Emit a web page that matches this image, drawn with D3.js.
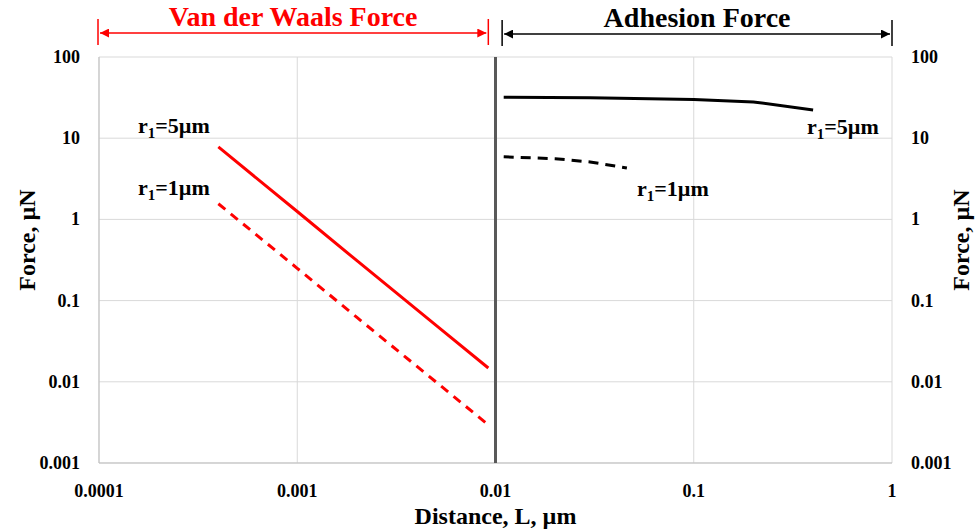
<!DOCTYPE html>
<html>
<head>
<meta charset="utf-8">
<script src="https://cdn.jsdelivr.net/npm/d3@7"></script>
<style>
  body { margin: 0; background: #fff; }
</style>
</head>
<body>
<div id="chart"></div>
<script>
// tick values
var xTicks = [0.0001, 0.001, 0.01, 0.1, 1];
var yTicks = [0.001, 0.01, 0.1, 1, 10, 100];
var xTickLabels = ["0.0001", "0.001", "0.01", "0.1", "1"];
var yTickLabels = ["0.001", "0.01", "0.1", "1", "10", "100"];

// van der Waals force (red)
var vdwDist = [0.0004, 0.001, 0.002, 0.005, 0.0092];
var vdw5 = [7.8, 1.25, 0.31, 0.05, 0.0148];
var vdw1 = [1.56, 0.25, 0.062, 0.01, 0.00295];

// adhesion force (black)
var adhDist5 = [0.011, 0.03, 0.1, 0.2, 0.4];
var adh5 = [32, 31.5, 30, 28, 22.2];
var adhDist1 = [0.011, 0.02, 0.03, 0.046];
var adh1 = [5.9, 5.6, 5.1, 4.3];

var FONT = "'Liberation Serif', 'Times New Roman', 'DejaVu Serif', serif";

var W = 977, H = 531;
var margin = {top: 57, right: 85, bottom: 68, left: 99};
var width = W - margin.left - margin.right,
    height = H - margin.top - margin.bottom;

var svg = d3.select("#chart").append("svg")
    .attr("width", W)
    .attr("height", H)
    .attr("font-family", FONT)
    .attr("font-weight", "bold");

var g = svg.append("g")
    .attr("transform", "translate(" + margin.left + "," + margin.top + ")");

var x = d3.scaleLog().domain([0.0001, 1]).range([0, width]);
var y = d3.scaleLog().domain([0.001, 100]).range([height, 0]);

// gridlines
g.selectAll(".vgrid").data(xTicks).enter().append("line")
    .attr("x1", function(d) { return x(d); })
    .attr("x2", function(d) { return x(d); })
    .attr("y1", 0).attr("y2", height)
    .style("stroke", "#d9d9d9").style("stroke-width", 1);

g.selectAll(".hgrid").data(yTicks).enter().append("line")
    .attr("x1", 0).attr("x2", width)
    .attr("y1", function(d) { return y(d); })
    .attr("y2", function(d) { return y(d); })
    .style("stroke", "#d9d9d9").style("stroke-width", 1);

// left/bottom axis lines a bit darker
g.append("line").attr("x1", 0).attr("x2", 0).attr("y1", 0).attr("y2", height)
    .style("stroke", "#bfbfbf");
g.append("line").attr("x1", 0).attr("x2", width).attr("y1", height).attr("y2", height)
    .style("stroke", "#bfbfbf");

function txt(sel) {
  return sel.style("font-family", FONT).style("font-weight", "bold");
}

// tick labels
txt(g.selectAll(".xlab").data(xTicks).enter().append("text"))
    .attr("x", function(d) { return x(d); })
    .attr("y", height + 34)
    .attr("text-anchor", "middle")
    .style("font-size", "18px")
    .text(function(d, i) { return xTickLabels[i]; });

txt(g.selectAll(".ylab").data(yTicks).enter().append("text"))
    .attr("x", -19)
    .attr("y", function(d) { return y(d) + 6; })
    .attr("text-anchor", "end")
    .style("font-size", "18px")
    .text(function(d, i) { return yTickLabels[i]; });

txt(g.selectAll(".ylab2").data(yTicks).enter().append("text"))
    .attr("x", width + 19)
    .attr("y", function(d) { return y(d) + 6; })
    .attr("text-anchor", "start")
    .style("font-size", "18px")
    .text(function(d, i) { return yTickLabels[i]; });

// axis titles
txt(svg.append("text"))
    .attr("x", margin.left + x(0.01))
    .attr("y", 524)
    .attr("text-anchor", "middle")
    .style("font-size", "24px")
    .text("Distance, L, \u00b5m");

txt(svg.append("text"))
    .attr("transform", "translate(35,240) rotate(-90)")
    .attr("text-anchor", "middle")
    .style("font-size", "24px")
    .text("Force, \u00b5N");

txt(svg.append("text"))
    .attr("transform", "translate(969,240) rotate(-90)")
    .attr("text-anchor", "middle")
    .style("font-size", "24px")
    .text("Force, \u00b5N");

// separator at L = 0.01
g.append("line")
    .attr("x1", x(0.01)).attr("x2", x(0.01))
    .attr("y1", 0).attr("y2", height)
    .style("stroke", "#595959").style("stroke-width", 3);

var line = d3.line()
    .x(function(d) { return x(d[0]); })
    .y(function(d) { return y(d[1]); });

function pairs(xs, ys) { return xs.map(function(v, i) { return [v, ys[i]]; }); }

g.append("path").datum(pairs(vdwDist, vdw5))
    .attr("d", line).style("fill", "none")
    .style("stroke", "#ff0000").style("stroke-width", 3);

g.append("path").datum(pairs(vdwDist, vdw1))
    .attr("d", line).style("fill", "none")
    .style("stroke", "#ff0000").style("stroke-width", 3)
    .style("stroke-dasharray", "9,7");

g.append("path").datum(pairs(adhDist5, adh5))
    .attr("d", line).style("fill", "none")
    .style("stroke", "#000").style("stroke-width", 3);

g.append("path").datum(pairs(adhDist1, adh1))
    .attr("d", line).style("fill", "none")
    .style("stroke", "#000").style("stroke-width", 3)
    .style("stroke-dasharray", "10,7");

// series labels r1=..
function rLabel(px, py, val) {
  var t = txt(svg.append("text")).attr("x", px).attr("y", py).style("font-size", "22px");
  t.append("tspan").text("r");
  t.append("tspan").attr("dy", 5).style("font-size", "15px").text("1");
  t.append("tspan").attr("dy", -5).text("=" + val + "\u00b5m");
}
rLabel(138, 133, 5);
rLabel(138, 195, 1);
rLabel(807, 134, 5);
rLabel(637, 196, 1);

// range brackets at the top
function bracket(x0, x1, yy, color, label) {
  var defsId = "arr" + color.replace("#", "");
  var defs = svg.append("defs");
  ["s", "e"].forEach(function(k) {
    defs.append("marker")
        .attr("id", defsId + k)
        .attr("viewBox", "0 0 10 10")
        .attr("refX", k === "e" ? 10 : 0).attr("refY", 5)
        .attr("markerWidth", 9).attr("markerHeight", 9)
        .attr("markerUnits", "userSpaceOnUse")
        .attr("orient", "auto")
      .append("path")
        .attr("d", k === "e" ? "M0,0 L10,5 L0,10 z" : "M10,0 L0,5 L10,10 z")
        .style("fill", color);
  });
  svg.append("line")
      .attr("x1", x0 + 2).attr("x2", x1 - 2).attr("y1", yy).attr("y2", yy)
      .style("stroke", color).style("stroke-width", 1.5)
      .attr("marker-start", "url(#" + defsId + "s)")
      .attr("marker-end", "url(#" + defsId + "e)");
  [x0, x1].forEach(function(xx) {
    svg.append("line").attr("x1", xx).attr("x2", xx).attr("y1", yy - 14).attr("y2", yy + 12)
        .style("stroke", color).style("stroke-width", 1.5);
  });
  txt(svg.append("text"))
      .attr("x", (x0 + x1) / 2).attr("y", yy - 7)
      .attr("text-anchor", "middle")
      .style("font-size", "28px")
      .style("fill", color)
      .text(label);
}
bracket(margin.left - 1, margin.left + x(0.0092), 33, "#ff0000", "Van der Waals Force");
bracket(margin.left + x(0.0108), margin.left + width, 34, "#000000", "Adhesion Force");
</script>
</body>
</html>
